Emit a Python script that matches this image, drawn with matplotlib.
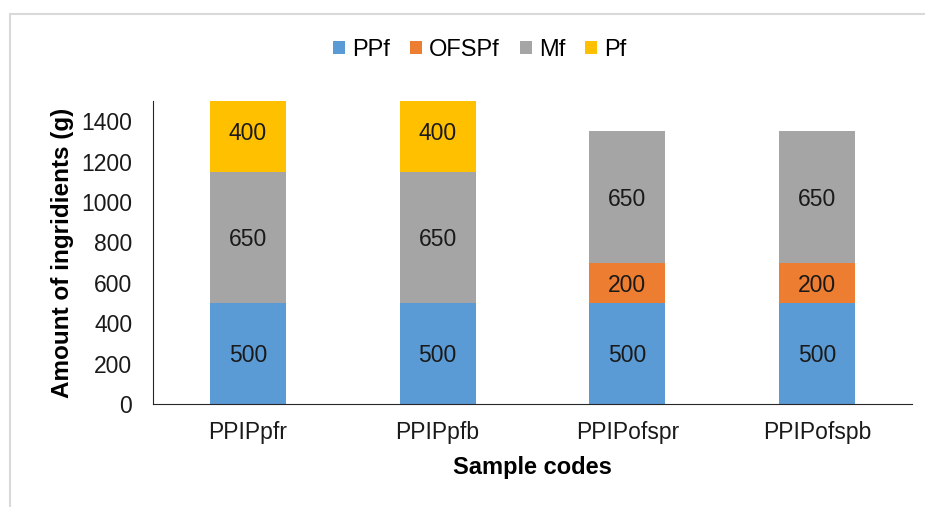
import matplotlib
matplotlib.use('Agg')
import matplotlib.pyplot as plt
from matplotlib.patches import Rectangle

plt.rcParams['font.family'] = ['Liberation Sans', 'DejaVu Sans']

samples = ['PPIPpfr', 'PPIPpfb', 'PPIPofspr', 'PPIPofspb']
ppf = [500, 500, 500, 500]
ofspf = [0, 0, 200, 200]
mf = [650, 650, 650, 650]
pf = [400, 400, 0, 0]

series = [('PPf', ppf, '#5b9bd5'), ('OFSPf', ofspf, '#ed7d31'),
          ('Mf', mf, '#a5a5a5'), ('Pf', pf, '#ffc000')]

fig = plt.figure(figsize=(9.25, 5.07), dpi=100)
ax = fig.add_axes([0.1654, 0.2032, 0.8206, 0.5976])

x = list(range(len(samples)))
bottom = [0] * len(samples)
for name, vals, col in series:
    bars = ax.bar(x, vals, 0.4, bottom=bottom, color=col, label=name)
    for b, v, b0 in zip(bars, vals, bottom):
        if v > 0:
            mid = b0 + v / 2
            if mid > 1500:
                mid = (b0 + 1500) / 2
            ax.text(b.get_x() + b.get_width() / 2, mid, str(v),
                    ha='center', va='center_baseline', fontsize=16.5,
                    color='#1a1a1a')
    bottom = [a + c for a, c in zip(bottom, vals)]

ax.set_xlim(-0.5, 3.5)
ax.set_ylim(0, 1500)
ax.set_yticks(range(0, 1401, 200))
ax.set_xticks(x)
ax.set_xticklabels(samples)
ax.tick_params(axis='both', length=0, labelsize=16.5, colors='#1a1a1a')
ax.tick_params(axis='x', pad=12)
ax.tick_params(axis='y', pad=15)
for s in ['top', 'right']:
    ax.spines[s].set_visible(False)
ax.spines['left'].set_color('#262626')
ax.spines['bottom'].set_color('#262626')

ax.set_xlabel('Sample codes', fontsize=17, fontweight='bold', labelpad=9)
ax.set_ylabel('Amount of ingridients (g)', fontsize=17.5, fontweight='bold',
              labelpad=5)

fig.legend(loc='center', bbox_to_anchor=(480 / 925, 1 - 50 / 507), ncol=4,
           frameon=False, fontsize=17, handlelength=0.5, handleheight=0.5,
           handletextpad=0.3, columnspacing=0.85)

fig.patches.append(Rectangle((10 / 925, -0.1), 1.2, 1 - 14 / 507 + 0.1,
                             transform=fig.transFigure, fill=False,
                             edgecolor='#d9d9d9', linewidth=1.5))

fig.savefig('out.png', dpi=100)
